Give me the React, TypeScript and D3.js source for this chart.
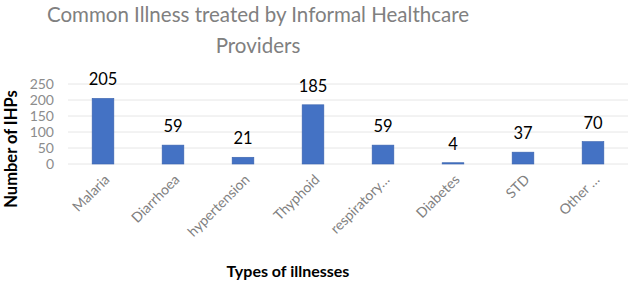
import React from "react";
import * as d3 from "d3";

const categories = ["Malaria", "Diarrhoea", "hypertension", "Thyphoid", "respiratory…", "Diabetes", "STD", "Other …"];
const values = [205, 59, 21, 185, 59, 4, 37, 70];
const yTicks = [0, 50, 100, 150, 200, 250];

const W = 632;
const H = 284;
const margin = { top: 84, right: 4, bottom: 120, left: 68 };
const FONT = "Lato, 'Open Sans', sans-serif";

export default function App() {
  const x = d3
    .scaleBand<string>()
    .domain(categories)
    .range([margin.left, W - margin.right])
    .paddingInner(0.69)
    .paddingOuter(0.345);
  const y = d3.scaleLinear().domain([0, 250]).range([H - margin.bottom, margin.top]);

  return (
    <svg width={W} height={H} style={{ position: "absolute", left: 0, top: 0, background: "#fff" }}>
      <text x={258} y={22} textAnchor="middle" fill="#808080" fontSize={20.5} fontFamily={FONT}>
        Common Illness treated by Informal Healthcare
      </text>
      <text x={258} y={53} textAnchor="middle" fill="#808080" fontSize={20.5} fontFamily={FONT}>
        Providers
      </text>

      {yTicks.map(t => (
        <g key={t}>
          <line x1={margin.left} x2={W - margin.right} y1={y(t)} y2={y(t)} stroke="#e6e6e6" strokeWidth={1} />
          <text x={54} y={y(t)} dy="0.35em" textAnchor="end" fill="#8c8c8c" fontSize={14} fontFamily={FONT}>
            {t}
          </text>
        </g>
      ))}

      {categories.map((c, i) => {
        const cx = x(c)! + x.bandwidth() / 2;
        const top = y(values[i]);
        return (
          <g key={c}>
            <rect
              x={x(c)}
              y={top}
              width={x.bandwidth()}
              height={y(0) - top}
              fill="#4472c4"
              stroke="#3a63ad"
              strokeWidth={0.6}
            />
            <text x={cx} y={top - 13} textAnchor="middle" fill="#000" fontSize={16.5} fontFamily={FONT}>
              {values[i]}
            </text>
            <text
              transform={`translate(${cx + 4},${y(0) + 13}) rotate(-45)`}
              textAnchor="end"
              dy="0.35em"
              fill="#808080"
              fontSize={14}
              fontFamily={FONT}
            >
              {c}
            </text>
          </g>
        );
      })}

      <text
        transform={`translate(17,${149}) rotate(-90)`}
        textAnchor="middle"
        fill="#000"
        fontSize={16.5}
        fontWeight="bold"
        fontFamily={FONT}
      >
        Number of IHPs
      </text>
      <text x={288} y={277} textAnchor="middle" fill="#000" fontSize={16} fontWeight="bold" fontFamily={FONT}>
        Types of illnesses
      </text>
    </svg>
  );
}
